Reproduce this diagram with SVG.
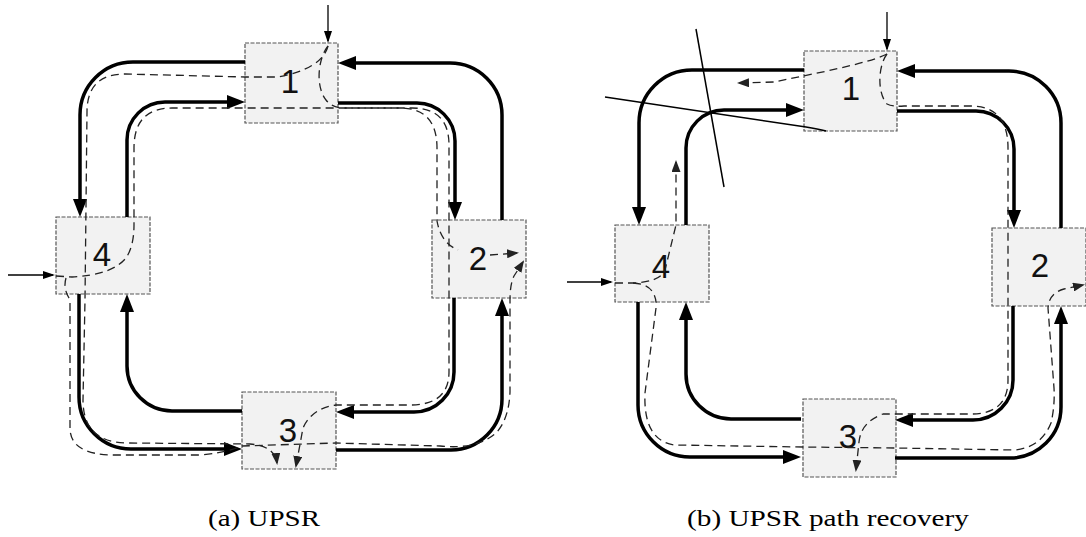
<svg xmlns="http://www.w3.org/2000/svg" width="1086" height="537" viewBox="0 0 1086 537">
<style>
.node rect{fill:#f2f2f2;stroke:#555;stroke-width:1.2;stroke-dasharray:4 1.5}
.node text{font-family:"Liberation Sans",Arial,sans-serif;font-size:33px;fill:#111;text-anchor:middle}
.ring{fill:none;stroke:#000;stroke-width:3.5;marker-end:url(#ah)}
.dashA{fill:none;stroke:#222;stroke-width:1.3;stroke-dasharray:8 5;marker-end:url(#da)}
.inp{fill:none;stroke:#000;stroke-width:1.3;marker-end:url(#sa)}
.cut{fill:none;stroke:#000;stroke-width:1.5}
.cap{font-family:"Liberation Serif","Times New Roman",serif;font-size:23px;fill:#000;text-anchor:middle}
</style>
<defs>
<marker id="ah" markerUnits="userSpaceOnUse" markerWidth="18" markerHeight="14" viewBox="0 0 18 14" refX="12" refY="7" orient="auto"><path d="M0,0 L18,7 L0,14 z" fill="#000"/></marker>
<marker id="sa" markerUnits="userSpaceOnUse" markerWidth="12" markerHeight="8" viewBox="0 0 12 8" refX="10" refY="4" orient="auto"><path d="M0,0 L12,4 L0,8 z" fill="#000"/></marker>
<marker id="da" markerUnits="userSpaceOnUse" markerWidth="12" markerHeight="9" viewBox="0 0 12 9" refX="10" refY="4.5" orient="auto"><path d="M0,0 L12,4.5 L0,9 z" fill="#222"/></marker>
</defs>

<g id="diagram-a">
  <g id="node-a1" class="node"><rect x="245" y="43" width="93" height="80"/><text x="290" y="93">1</text></g>
  <g id="node-a2" class="node"><rect x="432" y="220" width="94" height="78"/><text x="478" y="270">2</text></g>
  <g id="node-a3" class="node"><rect x="242" y="392" width="94" height="77"/><text x="288" y="442">3</text></g>
  <g id="node-a4" class="node"><rect x="56" y="217" width="94" height="77"/><text x="102" y="266">4</text></g>
  <g id="connectors-a">
    <path class="ring" d="M245,62 H133 A53,53 0 0 0 80,115 V211"/>
    <path class="ring" d="M79,294 V397 A52,52 0 0 0 131,449 H236"/>
    <path class="ring" d="M336,450 H451 A51,51 0 0 0 502,399 V304"/>
    <path class="ring" d="M502,220 V115 A52,52 0 0 0 450,63 H344"/>
    <path class="ring" d="M127,217 V140 A38,38 0 0 1 165,102 H239"/>
    <path class="ring" d="M338,103 H417 A38,38 0 0 1 455,141 V214"/>
    <path class="ring" d="M454,298 V372 A40,40 0 0 1 414,412 H342"/>
    <path class="ring" d="M242,411 H172 A45,45 0 0 1 127,366 V300"/>
    <path class="inp" d="M328,5 V41"/>
    <path class="inp" d="M8,275 H53"/>
    <path class="dashA" d="M328,46 C324,62 305,72 278,77 L245,77 L125,74 Q87,74 87,112 L85,300 L83,400 Q83,443 128,443 L250,444 Q275,446 277,463"/>
    <path class="dashA" d="M328,46 C317,60 316,88 326,100 Q332,108 345,108 H412 Q449,108 449,145 V372 Q449,405 410,405 H336 Q312,408 303,428 L296,466"/>
    <path class="dashA" d="M56,276 L72,277 Q112,275 126,258 Q134,246 134,225 V148 Q134,108 172,108 H400 Q437,108 437,148 V221 Q441,243 458,250 M490,255 L517,253"/>
    <path class="dashA" d="M66,278 Q63,288 69,298 L70,300 V428 Q70,455 115,455 L200,455 Q225,453 242,446 L336,443 L440,446 Q478,450 497,432 Q509,418 510,392 V300 Q510,284 514,276 L523,262"/>
  </g>
</g>

<g id="diagram-b" transform="translate(559,8)">
  <g id="node-b1" class="node"><rect x="245" y="43" width="93" height="80"/><text x="292" y="92">1</text></g>
  <g id="node-b2" class="node"><rect x="433" y="220" width="94" height="78"/><text x="481" y="269">2</text></g>
  <g id="node-b3" class="node"><rect x="244" y="391" width="93" height="78"/><text x="289" y="440">3</text></g>
  <g id="node-b4" class="node"><rect x="56" y="217" width="94" height="77"/><text x="102" y="270">4</text></g>
  <g id="connectors-b">
    <path class="ring" d="M245,62 H133 A53,53 0 0 0 80,115 V211"/>
    <path class="ring" d="M79,294 V397 A52,52 0 0 0 131,449 H236"/>
    <path class="ring" d="M336,450 H451 A51,51 0 0 0 502,399 V304"/>
    <path class="ring" d="M502,220 V115 A52,52 0 0 0 450,63 H344"/>
    <path class="ring" d="M127,217 V140 A38,38 0 0 1 165,102 H239"/>
    <path class="ring" d="M338,103 H417 A38,38 0 0 1 455,141 V214"/>
    <path class="ring" d="M454,298 V372 A40,40 0 0 1 414,412 H342"/>
    <path class="ring" d="M242,411 H172 A45,45 0 0 1 127,366 V300"/>
    <path class="inp" d="M328,4 V41"/>
    <path class="inp" d="M8,274 H52"/>
    <path class="dashA" d="M328,46 C318,51 300,56 268,63 L215,74 L180,75"/>
    <path class="dashA" d="M328,46 C319,58 318,85 328,96 Q334,99 345,98 H412 Q449,98 449,140 V372 Q449,406 412,406 H336 L324,406 Q302,414 300,434 L297,462"/>
    <path class="dashA" d="M56,275 L74,275 Q101,274 106,262 L117,217 V154"/>
    <path class="dashA" d="M74,275 Q88,276 93,283 Q98,290 97,300 L86,385 Q84,432 115,437 L244,439 L336,440 L455,442 Q482,440 492,415 Q496,398 495,380 L489,300 Q490,285 505,281 L524,277"/>
    <path class="cut" d="M46,89 L247,119 Q259,121 267,123"/>
    <path class="cut" d="M137,21 L165,179"/>
  </g>
</g>

<text class="cap" x="264" y="526" textLength="112" lengthAdjust="spacingAndGlyphs">(a) UPSR</text>
<text class="cap" x="828" y="526" textLength="282" lengthAdjust="spacingAndGlyphs">(b) UPSR path recovery</text>
</svg>
